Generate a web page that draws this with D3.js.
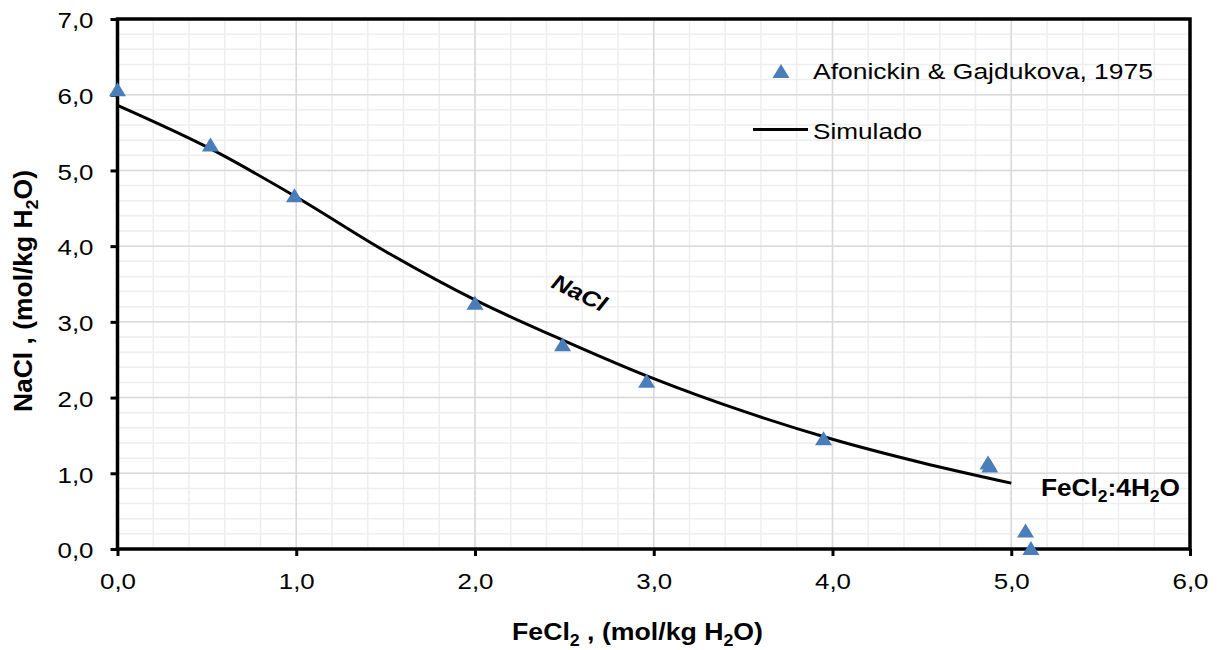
<!DOCTYPE html>
<html>
<head>
<meta charset="utf-8">
<script src="https://cdn.jsdelivr.net/npm/d3@7"></script>
<style>
  html, body { margin: 0; padding: 0; background: #fff; }
  svg { display: block; font-family: "Liberation Sans", Arial, sans-serif; }
</style>
</head>
<body>
<svg id="chart" width="1219" height="650"></svg>
<script>
// Experimental solubility points (FeCl2, NaCl) in mol/kg H2O
const expFeCl2 = [0.00, 0.52, 0.99, 2.00, 2.49, 2.96, 3.95, 4.87, 4.88, 5.08, 5.11];
const expNaCl  = [6.06, 5.33, 4.66, 3.24, 2.69, 2.21, 1.45, 1.13, 1.09, 0.23, 0.00];

// Simulated NaCl saturation curve
const simFeCl2 = [0.0, 0.5, 1.0, 1.5, 2.0, 2.5, 3.0, 3.5, 4.0, 4.5, 5.0];
const simNaCl  = [5.86, 5.31, 4.65, 3.93, 3.29, 2.75, 2.25, 1.82, 1.45, 1.14, 0.87];

const xTicks = [0, 1, 2, 3, 4, 5, 6];
const yTicks = [0, 1, 2, 3, 4, 5, 6, 7];

const legendLabels = ["Afonickin & Gajdukova, 1975", "Simulado"];

const svg = d3.select("#chart");
const pLeft = 117.5, pRight = 1190, pTop = 19, pBottom = 549;

const x = d3.scaleLinear().domain([0, 6]).range([pLeft, pRight]);
const y = d3.scaleLinear().domain([0, 7]).range([pBottom, pTop]);
const fmt = v => v.toFixed(1).replace(".", ",");

// Minor grid (every 0.2)
const grid = svg.append("g");
grid.selectAll(".vminor").data(d3.range(0, 6.001, 0.2)).join("line")
  .attr("x1", d => x(d)).attr("x2", d => x(d)).attr("y1", pTop).attr("y2", pBottom)
  .attr("stroke", "#eeeeee").attr("stroke-width", 1.5);
grid.selectAll(".hminor").data(d3.range(0, 7.001, 0.2)).join("line")
  .attr("y1", d => y(d)).attr("y2", d => y(d)).attr("x1", pLeft).attr("x2", pRight)
  .attr("stroke", "#eeeeee").attr("stroke-width", 1.5);
// Major grid
grid.selectAll(".vmajor").data(xTicks).join("line")
  .attr("x1", d => x(d)).attr("x2", d => x(d)).attr("y1", pTop).attr("y2", pBottom)
  .attr("stroke", "#d9d9d9").attr("stroke-width", 1.5);
grid.selectAll(".hmajor").data(yTicks).join("line")
  .attr("y1", d => y(d)).attr("y2", d => y(d)).attr("x1", pLeft).attr("x2", pRight)
  .attr("stroke", "#d9d9d9").attr("stroke-width", 1.5);

// Axes
const xAxis = svg.append("g").attr("transform", `translate(0,${pBottom})`)
  .call(d3.axisBottom(x).tickValues(xTicks).tickFormat(fmt).tickSize(7).tickPadding(17));
const yAxis = svg.append("g").attr("transform", `translate(${pLeft},0)`)
  .call(d3.axisLeft(y).tickValues(yTicks).tickFormat(fmt).tickSize(7).tickPadding(17));
[xAxis, yAxis].forEach(a => {
  a.select(".domain").remove();
  a.selectAll(".tick line").attr("stroke", "#000").attr("stroke-width", 3);
  a.selectAll(".tick text").attr("fill", "#000").style("font-size", "22px")
    .style("font-family", "'Liberation Sans', Arial, sans-serif")
    .attr("textLength", 36).attr("lengthAdjust", "spacingAndGlyphs");
});
yAxis.selectAll(".tick text").attr("dy", "0.4em");

// Plot frame
svg.append("rect").attr("x", pLeft).attr("y", pTop)
  .attr("width", pRight - pLeft).attr("height", pBottom - pTop)
  .attr("fill", "none").attr("stroke", "#000").attr("stroke-width", 3.5);

// Simulated curve
const simData = simFeCl2.map((v, i) => [v, simNaCl[i]]);
svg.append("path").datum(simData)
  .attr("d", d3.line().x(d => x(d[0])).y(d => y(d[1])).curve(d3.curveCatmullRom))
  .attr("fill", "none").attr("stroke", "#000").attr("stroke-width", 3);

// Triangle marker, 17px wide and 14px tall, centred on its data point
const triType = {
  draw(ctx) {
    ctx.moveTo(0, -8);
    ctx.lineTo(8.5, 6);
    ctx.lineTo(-8.5, 6);
    ctx.closePath();
  }
};
const tri = d3.symbol().type(triType);
const expData = expFeCl2.map((v, i) => [v, expNaCl[i]]);
svg.append("g").selectAll("path").data(expData).join("path")
  .attr("d", tri)
  .attr("transform", d => `translate(${x(d[0])},${y(d[1])})`)
  .attr("fill", "#4a7ebb");

// Legend
const lg = svg.append("g");
lg.append("path").attr("d", tri).attr("transform", "translate(781,72)").attr("fill", "#4a7ebb");
lg.append("text").attr("x", 813).attr("y", 79).text(legendLabels[0]).style("font-size", "22px")
  .attr("textLength", 340).attr("lengthAdjust", "spacingAndGlyphs");
lg.append("line").attr("x1", 753).attr("x2", 808).attr("y1", 129.5).attr("y2", 129.5)
  .attr("stroke", "#000").attr("stroke-width", 3);
lg.append("text").attr("x", 813).attr("y", 139).text(legendLabels[1]).style("font-size", "22px")
  .attr("textLength", 109).attr("lengthAdjust", "spacingAndGlyphs");

// Phase annotations
svg.append("text").attr("transform", "translate(550,287) rotate(26)")
  .style("font-size", "22px").style("font-weight", "bold").style("font-style", "italic")
  .attr("textLength", 58).attr("lengthAdjust", "spacingAndGlyphs")
  .text("NaCl");
const fe = svg.append("text").attr("x", 1041).attr("y", 496)
  .style("font-size", "24px").style("font-weight", "bold")
  .attr("textLength", 139).attr("lengthAdjust", "spacingAndGlyphs");
fe.append("tspan").text("FeCl");
fe.append("tspan").attr("dy", 6).style("font-size", "16px").text("2");
fe.append("tspan").attr("dy", -6).text(":4H");
fe.append("tspan").attr("dy", 6).style("font-size", "16px").text("2");
fe.append("tspan").attr("dy", -6).text("O");

// Axis titles
const xt = svg.append("text").attr("x", 512).attr("y", 640)
  .style("font-size", "24px").style("font-weight", "bold")
  .attr("textLength", 251).attr("lengthAdjust", "spacingAndGlyphs");
xt.append("tspan").text("FeCl");
xt.append("tspan").attr("dy", 6).style("font-size", "16px").text("2");
xt.append("tspan").attr("dy", -6).text(" , (mol/kg H");
xt.append("tspan").attr("dy", 6).style("font-size", "16px").text("2");
xt.append("tspan").attr("dy", -6).text("O)");

const yt = svg.append("text").attr("transform", "translate(32,412) rotate(-90)")
  .style("font-size", "25px").style("font-weight", "bold")
  .attr("textLength", 242).attr("lengthAdjust", "spacingAndGlyphs");
yt.append("tspan").text("NaCl , (mol/kg H");
yt.append("tspan").attr("dy", 6).style("font-size", "17px").text("2");
yt.append("tspan").attr("dy", -6).text("O)");
</script>
</body>
</html>
